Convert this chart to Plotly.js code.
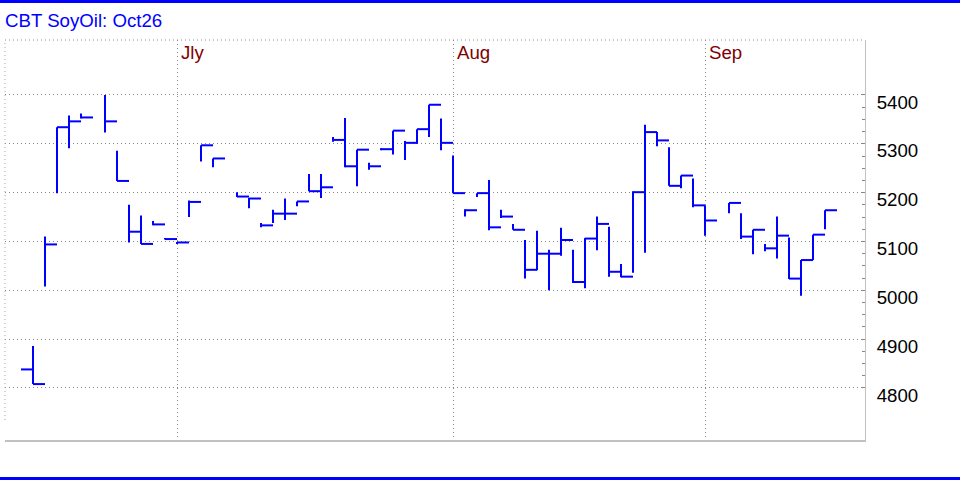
<!DOCTYPE html>
<html>
<head>
<meta charset="utf-8">
<script src="https://cdn.plot.ly/plotly-3.0.1.min.js"></script>
<style>
  html, body { margin: 0; padding: 0; background: #ffffff; }
  #chart { width: 960px; height: 480px; }
</style>
</head>
<body>
<div id="chart"></div>
<script>
// ---- Data (trading-day slots; gaps are holidays) ----
const slots = [0, 1, 2, 3, 4, 5, 7, 8, 9, 10, 11, 12, 13, 14, 15, 16, 18, 19, 20, 21, 22, 23, 24, 25, 26, 27, 28, 29, 30, 31, 32, 33, 34, 35, 36, 37, 38, 39, 40, 41, 42, 43, 44, 45, 46, 47, 48, 49, 50, 51, 52, 53, 54, 55, 56, 57, 59, 60, 61, 62, 63, 64, 65, 66, 67];
const highs = [4838, 4886, 5110, 5334, 5358, 5362, 5400, 5286, 5175, 5153, 5142, 5107, 5099, 5184, 5297, 5270, 5201, 5189, 5138, 5165, 5188, 5182, 5238, 5238, 5314, 5353, 5288, 5261, 5291, 5327, 5306, 5330, 5380, 5352, 5276, 5166, 5199, 5226, 5165, 5136, 5103, 5122, 5083, 5128, 5083, 5107, 5151, 5130, 5054, 5203, 5339, 5324, 5293, 5235, 5229, 5174, 5179, 5158, 5124, 5095, 5151, 5108, 5062, 5114, 5164];
const lows  = [4838, 4808, 5008, 5199, 5291, 5352, 5323, 5224, 5098, 5095, 5133, 5104, 5095, 5150, 5264, 5252, 5191, 5168, 5129, 5138, 5144, 5172, 5203, 5189, 5304, 5252, 5213, 5247, 5287, 5278, 5267, 5300, 5314, 5287, 5199, 5151, 5191, 5123, 5148, 5124, 5024, 5041, 5000, 5071, 5015, 5004, 5082, 5028, 5027, 5036, 5077, 5295, 5214, 5209, 5170, 5112, 5158, 5105, 5074, 5080, 5065, 5023, 4989, 5062, 5125];
const closes= [4838, 4808, 5094, 5334, 5346, 5354, 5346, 5224, 5120, 5095, 5135, 5105, 5098, 5181, 5297, 5270, 5192, 5188, 5133, 5157, 5157, 5182, 5203, 5211, 5308, 5254, 5288, 5254, 5289, 5327, 5302, 5330, 5380, 5302, 5199, 5164, 5199, 5129, 5151, 5124, 5042, 5075, 5075, 5103, 5017, 5106, 5136, 5038, 5028, 5201, 5324, 5307, 5214, 5235, 5174, 5143, 5179, 5110, 5124, 5086, 5112, 5024, 5062, 5114, 5164];

const monthLabels = ['Jly', 'Aug', 'Sep'];
const monthSlots  = [13, 36, 57];

const yTickVals  = [4800, 4900, 5000, 5100, 5200, 5300, 5400];
const yTickText  = ['4800', '4900', '5000', '5100', '5200', '5300', '5400'];

// ---- Build HLC bar paths (vertical high-low, close tick to the right) ----
const px = [], py = [];
for (let i = 0; i < slots.length; i++) {
  const s = slots[i];
  px.push(s, s, null, s, s + 1, null);
  py.push(lows[i], highs[i], null, closes[i], closes[i], null);
}

const minorVals = [];
for (let v = yTickVals[0]; v <= yTickVals[yTickVals.length - 1]; v += 25) minorVals.push(v);

const FONT = 'Arial, "Liberation Sans", sans-serif';
const dotted = '1px,3px';

const trace = {
  type: 'scatter', mode: 'lines', x: px, y: py,
  line: { color: '#0000ff', width: 2 },
  connectgaps: false, hoverinfo: 'skip'
};

const layout = {
  width: 960, height: 480,
  margin: { l: 5, r: 95, t: 40, b: 40, pad: 0 },
  paper_bgcolor: '#ffffff', plot_bgcolor: '#ffffff',
  showlegend: false,
  title: {
    text: 'CBT SoyOil: Oct26',
    font: { family: FONT, size: 18.67, color: '#0000ff' },
    xref: 'container', yref: 'container',
    x: 5 / 960, xanchor: 'left',
    y: 1 - 20.5 / 480, yanchor: 'middle'
  },
  xaxis: {
    range: [-4 / 3, 70 + 1 / 3],
    tickmode: 'array', tickvals: monthSlots,
    showticklabels: false, ticks: '',
    showgrid: true, gridcolor: '#888888', gridwidth: 1, griddash: dotted,
    zeroline: false,
    showline: true, linecolor: '#c0c0c0', linewidth: 2,
    fixedrange: true
  },
  yaxis: {
    side: 'right',
    range: [4693.5, 5512.6],
    tickmode: 'array', tickvals: yTickVals, ticktext: yTickText,
    ticks: 'inside', ticklen: 3, tickcolor: '#888888',
    minor: { tickmode: 'array', tickvals: minorVals, ticks: 'inside', ticklen: 3, tickcolor: '#888888', showgrid: false },
    tickfont: { family: FONT, size: 18.67, color: '#000000' },
    ticklabelshift: 7, ticklabelstandoff: 7,
    showgrid: true, gridcolor: '#888888', gridwidth: 1, griddash: dotted,
    zeroline: false,
    showline: true, linecolor: '#c0c0c0', linewidth: 1,
    fixedrange: true
  },
  shapes: [
    { type: 'line', xref: 'paper', yref: 'paper', x0: 0, x1: 1, y0: 1, y1: 1,
      line: { color: '#888888', width: 1, dash: dotted } },
    { type: 'line', xref: 'paper', yref: 'paper', x0: 0, x1: 0, y0: 0.05, y1: 1,
      line: { color: '#aaaaaa', width: 1, dash: dotted } },
    { type: 'line', xref: 'paper', yref: 'paper', x0: -5 / 860, x1: 955 / 860, y0: 438.5 / 400, y1: 438.5 / 400,
      line: { color: '#0000ff', width: 3 } },
    { type: 'line', xref: 'paper', yref: 'paper', x0: -5 / 860, x1: 955 / 860, y0: -38.5 / 400, y1: -38.5 / 400,
      line: { color: '#0000ff', width: 3 } }
  ],
  annotations: monthLabels.map((m, i) => ({
    text: m, x: monthSlots[i], xref: 'x', xanchor: 'left', xshift: 2,
    y: (440 - 53) / 400, yref: 'paper', yanchor: 'middle',
    showarrow: false,
    font: { family: FONT, size: 18.67, color: '#800000' }
  }))
};

Plotly.newPlot('chart', [trace], layout, { staticPlot: true, displayModeBar: false });
</script>
</body>
</html>
